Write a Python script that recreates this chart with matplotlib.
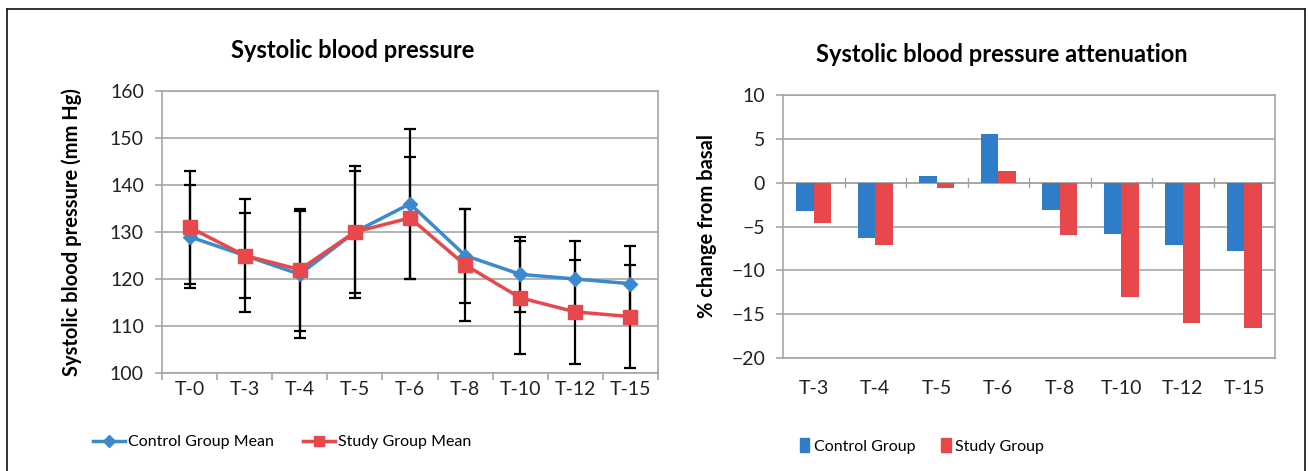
import numpy as np
import matplotlib
matplotlib.use("Agg")
import matplotlib.pyplot as plt
from matplotlib.lines import Line2D

plt.rcParams["font.family"] = ["Lato", "DejaVu Sans"]

# ── Data ──────────────────────────────────────────────────────────────────────
times = ["T-0", "T-3", "T-4", "T-5", "T-6", "T-8", "T-10", "T-12", "T-15"]
control_mean = [129, 125, 121, 130, 136, 125, 121, 120, 119]
control_sd   = [11, 12, 13.5, 14, 16, 10, 8, 8, 8]
study_mean   = [131, 125, 122, 130, 133, 123, 116, 113, 112]
study_sd     = [12, 9, 13, 13, 13, 12, 12, 11, 11]

att_times   = ["T-3", "T-4", "T-5", "T-6", "T-8", "T-10", "T-12", "T-15"]
att_control = [-3.2, -6.3, 0.8, 5.6, -3.1, -5.8, -7.1, -7.8]
att_study   = [-4.6, -7.1, -0.6, 1.3, -6.0, -13.0, -16.0, -16.6]

BLUE_LINE = "#3a8ad0"
RED_LINE  = "#e8484b"
BLUE_BAR  = "#2f7dc9"
RED_BAR   = "#e8474b"
GRID      = "#a6a6a6"

W, H = 1309, 471
fig = plt.figure(figsize=(W / 100, H / 100), dpi=100)

def box(l, t, r, b):
    return [l / W, 1 - b / H, (r - l) / W, (b - t) / H]

def style_axes(ax):
    for s in ax.spines.values():
        s.set_color(GRID)
        s.set_linewidth(1.2)
    ax.yaxis.grid(True, color=GRID, lw=1.2)
    ax.set_axisbelow(True)
    ax.tick_params(axis="both", colors=GRID, labelcolor="#222222",
                   labelsize=14, length=5, width=1.2)

# ── Left: systolic blood pressure ─────────────────────────────────────────────
ax1 = fig.add_axes(box(162, 91, 658, 373))
x = np.arange(len(times))
ax1.errorbar(x, control_mean, yerr=control_sd, fmt="none", ecolor="black",
             elinewidth=1.6, capsize=4, capthick=1.6, zorder=3)
ax1.errorbar(x, study_mean, yerr=study_sd, fmt="none", ecolor="black",
             elinewidth=1.6, capsize=4, capthick=1.6, zorder=3)
ax1.plot(x, control_mean, color=BLUE_LINE, lw=2.5, marker="D", ms=7.5, zorder=4)
ax1.plot(x, study_mean, color=RED_LINE, lw=2.5, marker="s", ms=9.5, zorder=5)
ax1.set_xlim(-0.5, len(times) - 0.5)
ax1.set_ylim(100, 160)
ax1.set_yticks(range(100, 161, 10))
ax1.set_xticks(x)
ax1.set_xticklabels(times)
ax1.set_xticks(np.arange(-0.5, len(times)), minor=True)
style_axes(ax1)
ax1.tick_params(axis="x", which="major", length=0, pad=6)
ax1.tick_params(axis="x", which="minor", colors=GRID, length=5, width=1.2)
ax1.tick_params(axis="y", pad=8)
ax1.set_ylabel("Systolic blood pressure (mm Hg)", fontsize=14.5,
               fontweight="bold", labelpad=20)
fig.text(353 / W, 1 - 50 / H, "Systolic blood pressure", fontsize=17,
         fontweight="bold", ha="center", va="center")

handles1 = [
    Line2D([], [], color=BLUE_LINE, lw=2.5, marker="D", ms=6),
    Line2D([], [], color=RED_LINE, lw=2.5, marker="s", ms=7),
]
ax1.legend(handles1, ["Control Group Mean", "Study Group Mean"],
           loc="center", bbox_to_anchor=(282 / W, 1 - 442 / H),
           bbox_transform=fig.transFigure, ncol=2, frameon=False,
           fontsize=11.5, handlelength=2.0, handletextpad=0.2, columnspacing=1.8)

# ── Right: attenuation ────────────────────────────────────────────────────────
ax2 = fig.add_axes(box(783, 95, 1275, 358))
xb = np.arange(len(att_times))
bw = 0.286
ax2.bar(xb - bw / 2, att_control, width=bw, color=BLUE_BAR, zorder=3)
ax2.bar(xb + bw / 2, att_study, width=bw, color=RED_BAR, zorder=3)
ax2.set_xlim(-0.5, len(att_times) - 0.5)
ax2.set_ylim(-20, 10)
ax2.set_yticks(range(-20, 11, 5))
ax2.set_xticks(xb)
ax2.set_xticklabels(att_times)
style_axes(ax2)
ax2.tick_params(axis="x", length=0, pad=16)
ax2.tick_params(axis="y", pad=8)
ax2.axhline(0, color=GRID, lw=1.2, zorder=2)
for xt in np.arange(0.5, len(att_times) - 1):
    ax2.plot([xt, xt], [-0.5, 0.5], color=GRID, lw=1.0, zorder=2)
ax2.set_ylabel("% change from basal", fontsize=14.5, fontweight="bold",
               labelpad=10)
fig.text(1002 / W, 1 - 55 / H, "Systolic blood pressure attenuation",
         fontsize=17, fontweight="bold", ha="center", va="center")

handles2 = [
    plt.Rectangle((0, 0), 1, 1, color=BLUE_BAR),
    plt.Rectangle((0, 0), 1, 1, color=RED_BAR),
]
ax2.legend(handles2, ["Control Group", "Study Group"],
           loc="center", bbox_to_anchor=(922 / W, 1 - 446 / H),
           bbox_transform=fig.transFigure, ncol=2, frameon=False,
           fontsize=11.5, handlelength=0.6, handleheight=1.0,
           handletextpad=0.3, columnspacing=1.6)

# ── Outer frame (top, left, right) ────────────────────────────────────────────
for xs, ys in [((7, 7), (9, H)), ((7, 1305), (9, 9)), ((1305, 1305), (9, H))]:
    fig.add_artist(Line2D([v / W for v in xs], [1 - v / H for v in ys],
                          color="#222222", lw=1.3))

plt.savefig("out.png", dpi=100)
